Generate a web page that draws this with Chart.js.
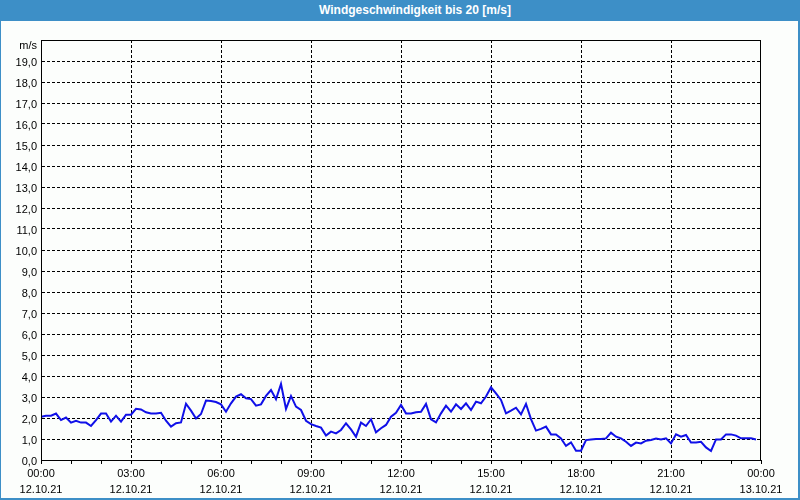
<!DOCTYPE html>
<html>
<head>
<meta charset="utf-8">
<script src="https://cdn.jsdelivr.net/npm/chart.js@4"></script>
<style>
  html, body { margin: 0; padding: 0; }
  body { width: 800px; height: 500px; background: #fcfefc; position: relative; overflow: hidden; font-family: "Liberation Sans", Arial, sans-serif; }
  #frame { position: absolute; left: 0; top: 0; width: 797px; height: 498px; border-left: 1px solid #3d8fc7; border-right: 2px solid #3d8fc7; border-bottom: 2px solid #3d8fc7; pointer-events: none; }
  #title { position: absolute; left: 0; top: 0; width: 800px; height: 21px; background: #3d8fc7; color: #fff; font-weight: bold; font-size: 12px; line-height: 21px; text-align: center; }
  #title span { position: relative; left: 15px; }
  #chart { position: absolute; left: 0; top: 0; }
</style>
</head>
<body>
<canvas id="chart" width="800" height="500"></canvas>
<div id="title"><span>Windgeschwindigkeit bis 20 [m/s]</span></div>
<div id="frame"></div>
<script>
  // Wind speed, one value every 10 minutes, 12.10.21 00:00 - 23:50
  const stepMinutes = 10;
  const windSpeed = [
    2.06, 2.11, 2.11, 2.21, 1.90, 2.02, 1.78, 1.87, 1.78, 1.78,
    1.62, 1.90, 2.21, 2.21, 1.83, 2.11, 1.83, 2.16, 2.16, 2.44,
    2.41, 2.27, 2.22, 2.22, 2.25, 1.87, 1.59, 1.75, 1.79, 2.68,
    2.35, 1.98, 2.19, 2.83, 2.81, 2.76, 2.65, 2.30, 2.70, 3.02,
    3.13, 2.94, 2.90, 2.59, 2.65, 3.05, 3.33, 2.89, 3.62, 2.43,
    3.05, 2.54, 2.38, 1.87, 1.71, 1.62, 1.54, 1.16, 1.35, 1.27,
    1.43, 1.75, 1.46, 1.11, 1.78, 1.62, 1.94, 1.32, 1.51, 1.67,
    2.06, 2.25, 2.62, 2.22, 2.22, 2.27, 2.30, 2.67, 1.94, 1.79,
    2.22, 2.59, 2.30, 2.65, 2.43, 2.70, 2.38, 2.78, 2.70, 3.02,
    3.46, 3.17, 2.86, 2.22, 2.35, 2.49, 2.17, 2.67, 1.95, 1.40,
    1.48, 1.59, 1.22, 1.22, 1.03, 0.67, 0.84, 0.44, 0.44, 0.95,
    0.98, 1.00, 1.00, 1.03, 1.30, 1.11, 1.03, 0.87, 0.67, 0.83,
    0.79, 0.92, 0.95, 1.02, 0.98, 1.03, 0.79, 1.22, 1.11, 1.19,
    0.83, 0.83, 0.87, 0.60, 0.43, 0.98, 0.98, 1.22, 1.22, 1.16,
    1.03, 1.03, 1.03, 0.98
  ];

  // x axis labels, every 3 hours
  const timeLabels = ['00:00', '03:00', '06:00', '09:00', '12:00', '15:00', '18:00', '21:00', '00:00'];
  const dateLabels = ['12.10.21', '12.10.21', '12.10.21', '12.10.21', '12.10.21', '12.10.21', '12.10.21', '12.10.21', '13.10.21'];
  const yUnit = 'm/s';
  const yMax = 20;

  const points = windSpeed.map((v, i) => ({ x: i * stepMinutes, y: v }));
  const font = { family: '"Liberation Sans", Arial, sans-serif', size: 11 };

  // black frame round the plot area and the unit label
  const framePlugin = {
    id: 'framePlugin',
    afterDraw(chart) {
      const { ctx, chartArea: a } = chart;
      ctx.save();
      ctx.strokeStyle = '#000';
      ctx.lineWidth = 1;
      ctx.strokeRect(a.left + 0.5, a.top + 0.5, a.right - a.left - 1, a.bottom - a.top);
      ctx.fillStyle = '#000';
      ctx.font = '11px "Liberation Sans", Arial, sans-serif';
      ctx.textAlign = 'right';
      ctx.textBaseline = 'middle';
      ctx.fillText(yUnit, a.left - 4, a.top + 6);
      ctx.restore();
    }
  };

  new Chart(document.getElementById('chart'), {
    type: 'line',
    data: {
      datasets: [{
        data: points,
        borderColor: '#1010e8',
        borderWidth: 2,
        pointRadius: 0,
        tension: 0,
        fill: false
      }]
    },
    options: {
      responsive: false,
      animation: false,
      layout: { padding: { left: 0, right: 39, top: 40, bottom: 0 } },
      plugins: { legend: { display: false }, tooltip: { enabled: false } },
      scales: {
        x: {
          type: 'linear',
          min: 0,
          max: 1440,
          afterFit(scale) { scale.height = 40; },
          ticks: {
            stepSize: 60,
            autoSkip: false,
            maxRotation: 0,
            padding: 2,
            color: '#000',
            font: { family: font.family, size: 11, lineHeight: 16 / 11 },
            callback(v) {
              if (v % 180 !== 0) return '';
              const k = v / 180;
              return [timeLabels[k], dateLabels[k]];
            }
          },
          grid: {
            color: ctx => (ctx.tick && ctx.tick.value % 180 === 0 && ctx.tick.value > 0 && ctx.tick.value < 1440) ? '#000' : 'rgba(0,0,0,0)',
            tickColor: '#000',
            tickLength: 4,
            lineWidth: 1
          },
          border: { color: '#000', dash: [3, 2] }
        },
        y: {
          min: 0,
          max: yMax,
          afterFit(scale) { scale.width = 41; },
          ticks: {
            stepSize: 1,
            padding: 4,
            labelOffset: 2,
            color: '#000',
            font: font,
            callback(v) { return v >= yMax ? '' : v.toFixed(1).replace('.', ','); }
          },
          grid: {
            drawTicks: false,
            color: ctx => (ctx.tick && ctx.tick.value > 0 && ctx.tick.value < yMax) ? '#000' : 'rgba(0,0,0,0)',
            lineWidth: 1
          },
          border: { color: '#000', dash: [3, 2] }
        }
      }
    },
    plugins: [framePlugin]
  });
</script>
</body>
</html>
